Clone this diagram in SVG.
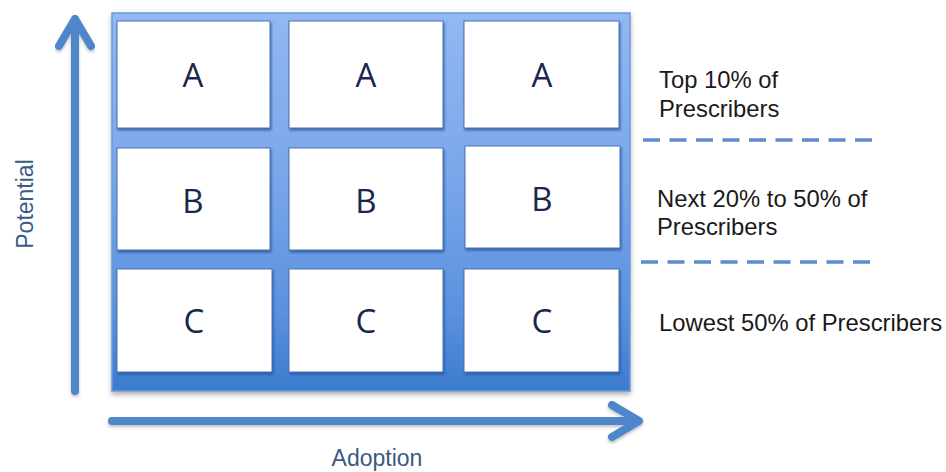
<svg xmlns="http://www.w3.org/2000/svg" width="946" height="472" viewBox="0 0 946 472">
<defs>
<linearGradient id="pg" x1="0" y1="0" x2="0" y2="1">
<stop offset="0" stop-color="#93b8f2"/>
<stop offset="0.45" stop-color="#78a6ea"/>
<stop offset="0.8" stop-color="#5a90de"/>
<stop offset="1" stop-color="#3b7bcd"/>
</linearGradient>
<filter id="ps" x="-5%" y="-5%" width="110%" height="112%">
<feDropShadow dx="0" dy="3" stdDeviation="2.5" flood-color="#000" flood-opacity="0.3"/>
</filter>
<filter id="cs" x="-5%" y="-5%" width="112%" height="115%">
<feDropShadow dx="1" dy="2" stdDeviation="1.2" flood-color="#1d4a8a" flood-opacity="0.7"/>
</filter>
<filter id="as" x="-10%" y="-10%" width="120%" height="130%">
<feDropShadow dx="0" dy="2" stdDeviation="1.5" flood-color="#000" flood-opacity="0.25"/>
</filter>
</defs>
<style>
.cell{fill:#fff;stroke:#4a74b4;stroke-width:1;filter:url(#cs)}
.ltr{font-family:"Open Sans","Noto Sans",sans-serif;font-size:33px;fill:#18284a;text-anchor:middle}
.lbl{font-family:"Liberation Sans",Arial,sans-serif;font-size:23.8px;fill:#1a1a1a}
.ax{font-family:"Liberation Sans",Arial,sans-serif;font-size:23px;fill:#3a5a86;text-anchor:middle}
.arr{fill:none;stroke:#4f86cb;stroke-width:8;stroke-linecap:round;stroke-linejoin:round;filter:url(#as)}
.dash{fill:none;stroke:#5b8ccc;stroke-width:3.5;stroke-dasharray:17 9.5}
</style>
<rect width="946" height="472" fill="#fff"/>
<g id="panel">
<rect x="112" y="13" width="518" height="378" fill="url(#pg)" stroke="#6a9ad9" stroke-width="1.5" filter="url(#ps)"/>
</g>
<g id="connectors">
<path class="arr" d="M75 391 V19 M59 46 L75 19 L91 46"/>
<path class="arr" d="M112 421 H638 M612 405 L639 421 L612 437"/>
<path class="dash" d="M643 140 H873"/>
<path class="dash" d="M641 262 H871"/>
</g>
<g id="cell-a1"><rect class="cell" x="117" y="21" width="153" height="107"/><text class="ltr" x="193" y="87">A</text></g>
<g id="cell-a2"><rect class="cell" x="289" y="21" width="154" height="107"/><text class="ltr" x="366" y="87">A</text></g>
<g id="cell-a3"><rect class="cell" x="464" y="21" width="155" height="107"/><text class="ltr" x="542" y="87">A</text></g>
<g id="cell-b1"><rect class="cell" x="117" y="148" width="153" height="102"/><text class="ltr" x="193" y="213">B</text></g>
<g id="cell-b2"><rect class="cell" x="289" y="148" width="154" height="102"/><text class="ltr" x="366" y="213">B</text></g>
<g id="cell-b3"><rect class="cell" x="465" y="146" width="155" height="102"/><text class="ltr" x="542" y="211">B</text></g>
<g id="cell-c1"><rect class="cell" x="117" y="269" width="155" height="103"/><text class="ltr" x="194" y="333">C</text></g>
<g id="cell-c2"><rect class="cell" x="289" y="269" width="154" height="103"/><text class="ltr" x="366" y="333">C</text></g>
<g id="cell-c3"><rect class="cell" x="464" y="269" width="155" height="103"/><text class="ltr" x="542" y="333">C</text></g>
<g id="label-top"><text class="lbl" x="659" y="88">Top 10% of</text><text class="lbl" x="659" y="117">Prescribers</text></g>
<g id="label-next"><text class="lbl" x="657" y="207">Next 20% to 50% of</text><text class="lbl" x="657" y="235">Prescribers</text></g>
<g id="label-low"><text class="lbl" x="659" y="331">Lowest 50% of Prescribers</text></g>
<g id="axis-y"><text class="ax" transform="translate(33 204) rotate(-90)">Potential</text></g>
<g id="axis-x"><text class="ax" x="377" y="466">Adoption</text></g>
</svg>
